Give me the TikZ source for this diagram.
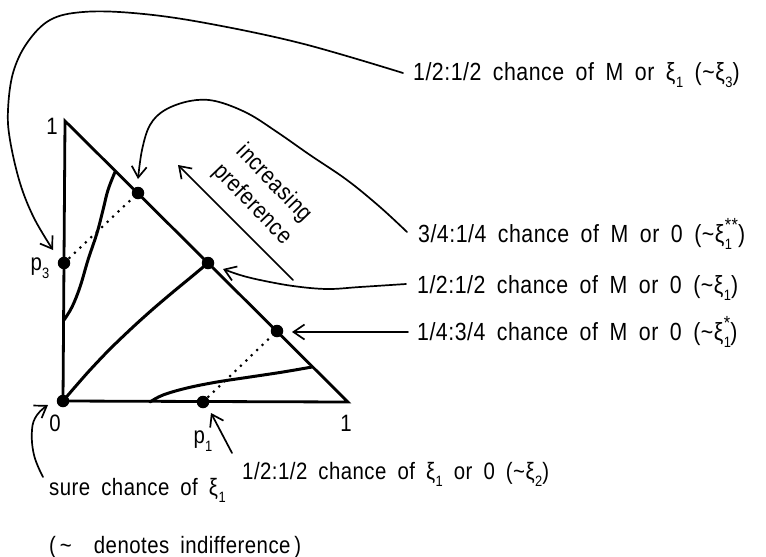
\documentclass[tikz,border=0pt]{standalone}
\usepackage{fontspec}
\newfontfamily\lblfont{Liberation Sans}[FakeStretch=0.86,WordSpace=1.8,LetterSpace=2]
\usetikzlibrary{arrows.meta}
\newcommand{\subdig}[1]{\raisebox{-0.32em}{\fontsize{15}{15}\selectfont #1}}
\newcommand{\supdig}[1]{\raisebox{0.42em}{\fontsize{19}{19}\selectfont #1}}
\newcommand{\xisub}[1]{ξ\kern0.5pt\subdig{#1}}
\newcommand{\xisubsup}[2]{ξ\kern0.5pt\rlap{\subdig{#1}}\supdig{#2}}
\newcommand{\tl}{\textasciitilde}
\begin{document}
\begin{tikzpicture}[x=1pt,y=-1pt,
  tri/.style={line width=2.8pt, line join=miter},
  curv/.style={line width=3pt, line cap=round, line join=round},
  conn/.style={line width=1.7pt, line cap=round, -{Straight Barb[length=11pt,width=15pt,line width=1.7pt]}},
  dotline/.style={line width=3pt, line cap=round, dash pattern=on 0pt off 7.5pt},
  pt/.style={circle, fill=black, inner sep=0pt, minimum size=12.5pt},
  lbl/.style={inner sep=0pt, anchor=base west, font=\lblfont\fontsize{23.7}{28}\selectfont},
  rlbl/.style={lbl, font=\lblfont\fontsize{24.8}{28}\selectfont},
  axl/.style={inner sep=0pt, font=\lblfont\fontsize{23.7}{30}\selectfont}]
\useasboundingbox (0,0) rectangle (766,557);

% triangle
\coordinate (apex) at (65,121);
\coordinate (org) at (63,401);
\coordinate (rv) at (348,402);
\draw[tri] (apex) -- (org) -- (rv) -- cycle;

% points
\node[pt] (d0) at (63,401) {};
\node[pt] (d1) at (138,193) {};
\node[pt] (d2) at (208,263) {};
\node[pt] (d3) at (277,331) {};
\node[pt] (pp3) at (64,263) {};
\node[pt] (pp1) at (203,402) {};

% dotted lines
\draw[dotline] (pp3.center) -- (d1.center);
\draw[dotline] (pp1.center) -- (d3.center);

% indifference curves
\draw[curv] plot[smooth, tension=0.6] coordinates {(64,320) (72,307) (80,287) (88,260) (97,233) (103,210) (108,190) (115,172)};
\draw[curv] plot[smooth, tension=0.5] coordinates {(d0.center) (75,387) (90,370) (110,349) (133,327) (153,309) (173,292) (190,278) (d2.center)};
\draw[curv] plot[smooth, tension=0.6] coordinates {(150,402) (163,395) (187,388) (217,382) (250,377) (283,372) (312,367)};

% axis labels
\node[axl] (one3) at (52,126) {1};
\node[axl] (lp3) at (40,268) {p\subdig{3}};
\node[axl] (zero) at (55,423) {0};
\node[axl] (one1) at (346,423) {1};
\node[axl] (lp1) at (203,441) {p\subdig{1}};

% increasing preference
\node[axl, rotate=-46, align=center] (incp) at (263,194) {increasing\\preference};
\coordinate (ipS) at (293,280);
\coordinate (ipE) at (178,165);
\draw[conn] (ipS) -- (ipE);

% labels
\node[rlbl] (L1) at (413,80) {1/2:1/2 chance of M or \xisub{1} (\tl\xisub{3})};
\node[rlbl] (L2) at (418,242) {3/4:1/4 chance of M or 0 (\tl\xisubsup{1}{**})};
\node[rlbl] (L3) at (417,293) {1/2:1/2 chance of M or 0 (\tl\xisub{1})};
\node[rlbl] (L4) at (417,340) {1/4:3/4 chance of M or 0 (\tl\xisubsup{1}{*})};
\node[lbl] (L5) at (242,479) {1/2:1/2 chance of \xisub{1} or 0 (\tl\xisub{2})};
\node[lbl] (L6) at (49,495) {sure chance of \xisub{1}};
\node[lbl] (L7) at (49,553) {(\,\tl\ \ denotes indifference\,)};

\coordinate (c1s) at (403,73);
\coordinate (c2s) at (407,232);
\coordinate (c3s) at (406,284);
\coordinate (c4s) at (408,332);
\coordinate (c5s) at (232,453);
\coordinate (c6s) at (43,477);

% connectors
\draw[conn] plot[smooth, tension=0.6] coordinates {(c1s) (300,43) (200,22) (133,13) (83,12) (50,20) (27,43) (13,73) (8,110) (10,140) (20,183) (34,218) (53,250)};
\draw[conn] plot[smooth, tension=0.6] coordinates {(c2s) (380,207) (347,180) (310,155) (277,132) (247,113) (215,101) (190,101) (165,110) (150,125) (142,150) (138,179)};
\draw[conn] plot[smooth, tension=0.6] coordinates {(c3s) (360,287) (327,289) (293,286) (260,280) (240,275) (223,269)};
\draw[conn] (c4s) -- (292,332);
\draw[conn] (c5s) -- (211,413);
\draw[conn] plot[smooth, tension=0.7] coordinates {(c6s) (34,455) (32,430) (37,415) (48,405)};
\end{tikzpicture}
\end{document}
